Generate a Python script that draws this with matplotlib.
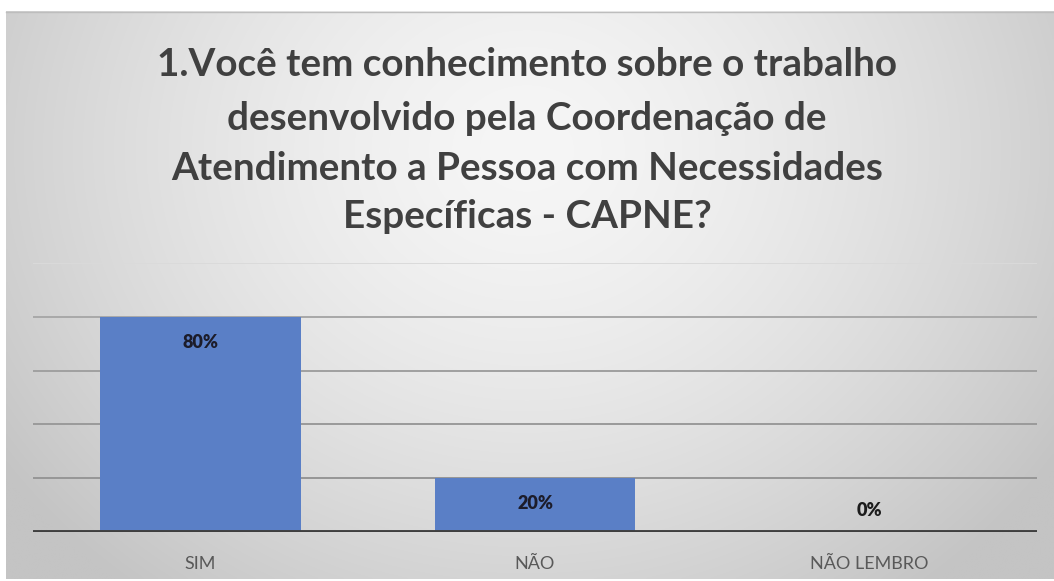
import numpy as np
import matplotlib
matplotlib.use("Agg")
import matplotlib.pyplot as plt

categories = ["SIM", "NÃO", "NÃO LEMBRO"]
values = [0.80, 0.20, 0.00]
value_labels = ["80%", "20%", "0%"]
title_lines = [
    "1.Você tem conhecimento sobre o trabalho",
    "desenvolvido pela Coordenação de",
    "Atendimento a Pessoa com Necessidades",
    "Específicas - CAPNE?",
]
y_ticks = [0.0, 0.2, 0.4, 0.6, 0.8, 1.0]

W, H = 1054, 581
fig = plt.figure(figsize=(W / 100, H / 100), dpi=100)
fig.patch.set_facecolor("white")

# background gradient panel
bg = fig.add_axes([0, 0, 1, 1])
bg.set_xlim(0, W)
bg.set_ylim(H, 0)
bg.axis("off")
x0, x1, y0, y1 = 6, W, 11, 579
xs = np.linspace(x0, x1, 400)
ys = np.linspace(y0, y1, 240)
X, Y = np.meshgrid(xs, ys)
cx, cy = 527, 150
d = np.sqrt(((X - cx) / 640) ** 2 + ((Y - cy) / 560) ** 2)
d = np.clip(d, 0, 1)
val = (246 - (246 - 196) * d ** 1.5) / 255.0
img = np.dstack([val, val, val])
bg.imshow(img, extent=(x0, x1, y1, y0), aspect="auto", interpolation="bilinear", zorder=0)
bg.plot([x0, x1], [y0 + 0.5, y0 + 0.5], color="#bdbdbd", lw=1.0, zorder=1)

FONT = ["Lato", "DejaVu Sans"]

# title
title_y = [64, 118, 169, 216]
texts = []
for line, ty in zip(title_lines, title_y):
    t = fig.text(527 / W, 1 - ty / H, line, ha="center", va="center",
                 fontsize=24, fontweight="bold", color="#404040", family=FONT)
    texts.append(t)
fig.canvas.draw()
r = fig.canvas.get_renderer()
w0 = texts[0].get_window_extent(r).width
scale = 741.0 / w0
for t in texts:
    t.set_fontsize(24 * scale)

# main axes
left, right = 33, 1037
top, bottom = 263, 532
ax = fig.add_axes([left / W, 1 - bottom / H, (right - left) / W, (bottom - top) / H])
ax.patch.set_alpha(0)
x = np.arange(len(categories))
ax.set_xlim(-0.5, len(categories) - 0.5)
ax.set_ylim(0, 1.0)
grid_colors = ["#dadada", "#a8a8a8", "#a0a0a0", "#9a9a9a", "#969696"]
for yt, gc in zip(y_ticks[::-1][:-1], grid_colors):
    ax.axhline(yt, color=gc, lw=1.4, zorder=1)
ax.axhline(0, color="#3f3f3f", lw=2.8, zorder=3)
bars = ax.bar(x, values, width=0.6, color="#5a7fc6", zorder=2)
for xi, v, lab in zip(x, values, value_labels):
    if v > 0.05:
        ax.text(xi, v - 0.095, lab, ha="center", va="center", fontsize=13,
                fontweight="heavy", color="#1c1c2a", family=FONT, zorder=4)
    else:
        ax.text(xi, v + 0.08, lab, ha="center", va="center", fontsize=13,
                fontweight="heavy", color="#1c1c1c", family=FONT, zorder=4)
ax.set_xticks(x)
ax.set_xticklabels(categories, fontsize=13, color="#595959", family=FONT)
ax.tick_params(axis="x", length=0, pad=17)
ax.set_yticks([])
for s in ax.spines.values():
    s.set_visible(False)

fig.savefig("out.png", dpi=100)
